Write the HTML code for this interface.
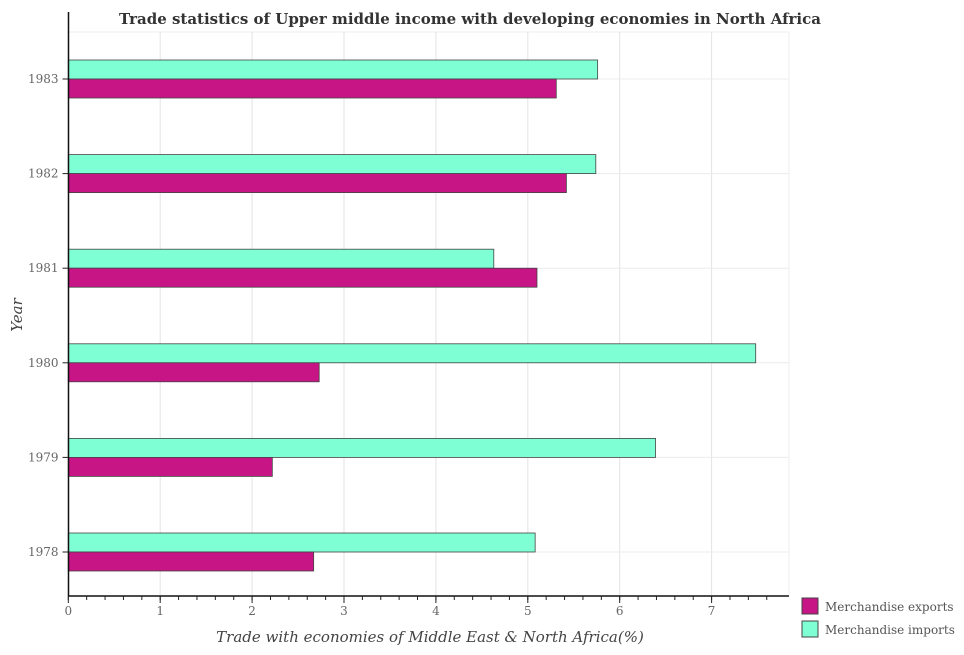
<!DOCTYPE html>
<html><head><meta charset="utf-8"><style>
body{margin:0;background:#fff;}
svg text{font-family:"DejaVu Serif","Liberation Serif",serif;}
</style></head><body>
<svg width="964" height="650" xmlns="http://www.w3.org/2000/svg">
<text x="470" y="24" text-anchor="middle" font-size="15" font-weight="bold" fill="#333">Trade statistics of Upper middle income with developing economies in North Africa</text>
<g id="grid"></g>
<g id="bars"></g>
<g id="axes"></g>
<text x="430" y="642" text-anchor="middle" font-size="15" font-style="italic" fill="#444">Trade with economies of Middle East &amp; North Africa(%)</text>
<text transform="translate(22,315) rotate(-90)" text-anchor="middle" font-size="15" font-style="italic" fill="#444">Year</text>
<g>
<rect x="802" y="598" width="16" height="16" fill="#c71585" stroke="#444"/>
<text x="825" y="611" font-size="12" fill="#555">Merchandise exports</text>
<rect x="802" y="621" width="16" height="16" fill="#7fffd4" stroke="#444"/>
<text x="825" y="634" font-size="12" fill="#555">Merchandise imports</text>
</g>
</svg>
<script>
const years=["1978","1979","1980","1981","1982","1983"];
const exportsVals=[2.67,2.22,2.73,5.10,5.42,5.31];
const importsVals=[5.08,6.39,7.48,4.63,5.74,5.76];
const xTicks=[0,1,2,3,4,5,6,7];
const NS="http://www.w3.org/2000/svg";
const X0=68.3,XU=91.9,PL=68.5,PR=789,PT=32,PB=596;
const x=v=>X0+v*XU;
const yc=i=>552-i*94.6;
function mk(t,a,p){const e=document.createElementNS(NS,t);for(const k in a)e.setAttribute(k,a[k]);p.appendChild(e);return e;}
const grid=document.getElementById('grid'),bars=document.getElementById('bars'),axes=document.getElementById('axes');
mk('rect',{x:PL,y:PT,width:PR-PL,height:PB-PT,fill:'none',stroke:'#eee'},grid);
xTicks.forEach(t=>{const l=mk('line',{x1:x(t),x2:x(t),y1:PT,y2:PB,stroke:'#e3e3e3'},grid);

});
years.forEach((y,i)=>{const l=mk('line',{x1:PL,x2:PR,y1:yc(i),y2:yc(i),stroke:'#ececec'},grid);

});
years.forEach((yr,i)=>{
const c=yc(i);
const ri=mk('rect',{x:X0,y:c-19,width:x(importsVals[i])-X0,height:19,fill:'#7fffd4',stroke:'#444','stroke-width':0.8},bars);


const re=mk('rect',{x:X0,y:c,width:x(exportsVals[i])-X0,height:19,fill:'#c71585',stroke:'#444','stroke-width':0.8},bars);


const tk=mk('line',{x1:PL-6,x2:PL,y1:c,y2:c,stroke:'#222'},axes);


const tl=mk('text',{x:PL-10,y:c+4,'text-anchor':'end','font-size':12,fill:'#666'},axes);
tl.textContent=yr;


});
mk('line',{x1:PL,x2:PL,y1:PT-20,y2:PB,stroke:'#111','stroke-width':1.5},axes);
mk('line',{x1:PL,x2:PR,y1:PB,y2:PB,stroke:'#111','stroke-width':1.5},axes);
for(let m=0;m<=7.8;m+=0.2){const xx=x(m);if(xx>PR)break;mk('line',{x1:xx,x2:xx,y1:PB,y2:PB+4,stroke:'#222'},axes);}
xTicks.forEach(t=>{mk('line',{x1:x(t),x2:x(t),y1:PB,y2:PB+7,stroke:'#222'},axes);
const tl=mk('text',{x:x(t),y:PB+19,'text-anchor':'middle','font-size':12,fill:'#666'},axes);
tl.textContent=t;

});
</script>
</body></html>
